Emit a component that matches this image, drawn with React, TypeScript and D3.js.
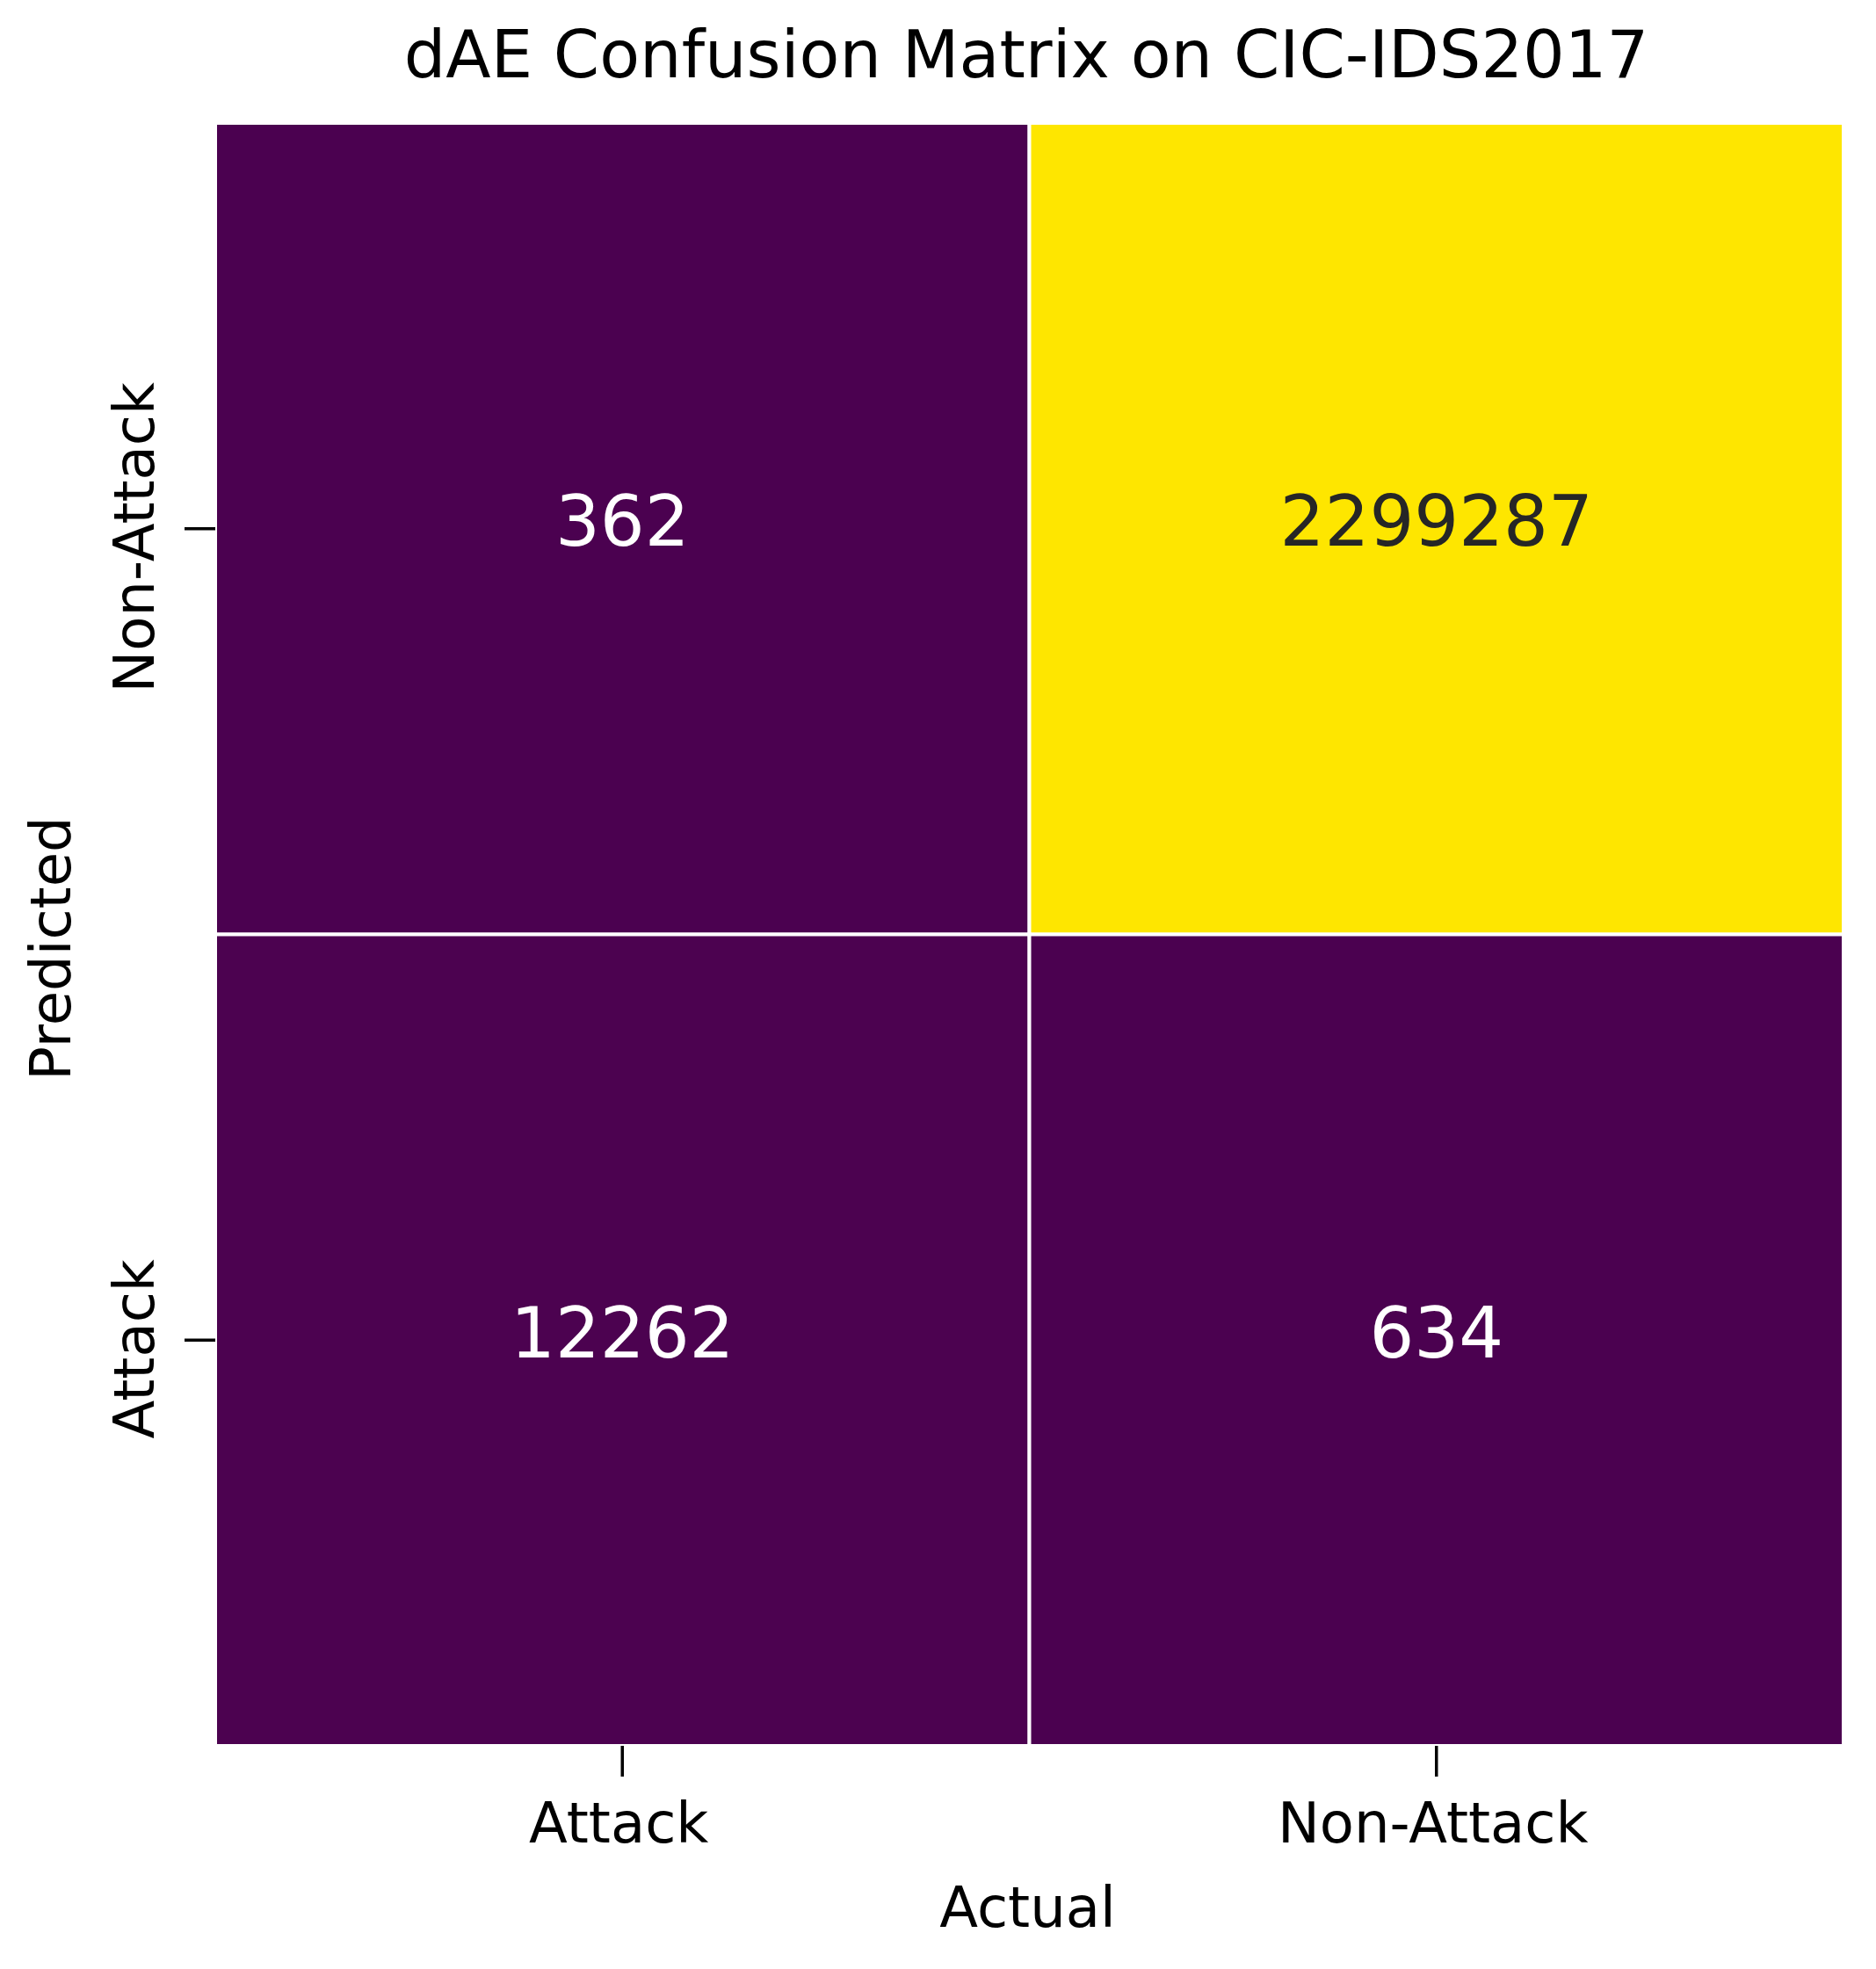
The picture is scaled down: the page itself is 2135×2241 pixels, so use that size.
import React, { useEffect, useRef } from "react";
import * as d3 from "d3";

const title = "dAE Confusion Matrix on CIC-IDS2017";
const actualLabels = ["Attack", "Non-Attack"];
const predictedLabels = ["Non-Attack", "Attack"];
// values[row][col], rows = predicted (top to bottom), cols = actual
const rowNonAttack = [362, 2299287];
const rowAttack = [12262, 634];
const xAxisTitle = "Actual";
const yAxisTitle = "Predicted";

const W = 2135;
const H = 2241;
const FONT = "DejaVu Sans, sans-serif";

export default function App() {
  const ref = useRef<SVGSVGElement>(null);

  useEffect(() => {
    document.body.style.margin = "0";
    const svg = d3.select(ref.current);
    svg.selectAll("*").remove();

    const left = 245, right = 2098, top = 140, bottom = 1987;
    const values = [rowNonAttack, rowAttack];
    const cells = values.flatMap((row, ri) =>
      row.map((v, ci) => ({ row: predictedLabels[ri], col: actualLabels[ci], v }))
    );

    const x = d3.scaleBand().domain(actualLabels).range([left, right]);
    const y = d3.scaleBand().domain(predictedLabels).range([top, bottom]);
    const maxV = d3.max(cells, (d) => d.v) as number;
    const minV = d3.min(cells, (d) => d.v) as number;
    const color = d3
      .scaleLinear<string>()
      .domain([minV, maxV])
      .range(["#4b0150", "#fee600"]);

    svg.append("rect").attr("width", W).attr("height", H).attr("fill", "#ffffff");

    svg
      .append("g")
      .selectAll("rect")
      .data(cells)
      .join("rect")
      .attr("x", (d) => x(d.col)!)
      .attr("y", (d) => y(d.row)!)
      .attr("width", x.bandwidth())
      .attr("height", y.bandwidth())
      .attr("fill", (d) => color(d.v))
      .attr("stroke", "#ffffff")
      .attr("stroke-width", 4);

    svg
      .append("g")
      .selectAll("text")
      .data(cells)
      .join("text")
      .attr("x", (d) => x(d.col)! + x.bandwidth() / 2)
      .attr("y", (d) => y(d.row)! + y.bandwidth() / 2 - 8)
      .attr("text-anchor", "middle")
      .attr("dominant-baseline", "central")
      .attr("font-family", FONT)
      .attr("font-size", 80)
      .attr("fill", (d) => (d.v > maxV / 2 ? "#262626" : "#ffffff"))
      .text((d) => String(d.v));

    // x axis ticks
    const xg = svg.append("g");
    actualLabels.forEach((lab) => {
      const cx = x(lab)! + x.bandwidth() / 2;
      xg.append("line")
        .attr("x1", cx).attr("x2", cx)
        .attr("y1", bottom).attr("y2", bottom + 35)
        .attr("stroke", "#000").attr("stroke-width", 3.5);
      xg.append("text")
        .attr("x", cx - 4).attr("y", 2097)
        .attr("text-anchor", "middle")
        .attr("font-family", FONT).attr("font-size", 64)
        .attr("fill", "#000")
        .text(lab);
    });

    // y axis ticks
    const yg = svg.append("g");
    predictedLabels.forEach((lab) => {
      const cy = y(lab)! + y.bandwidth() / 2;
      yg.append("line")
        .attr("x1", left - 35).attr("x2", left)
        .attr("y1", cy).attr("y2", cy)
        .attr("stroke", "#000").attr("stroke-width", 3.5);
      yg.append("text")
        .attr("transform", `translate(175,${cy + 10}) rotate(-90)`)
        .attr("text-anchor", "middle")
        .attr("font-family", FONT).attr("font-size", 64)
        .attr("fill", "#000")
        .text(lab);
    });

    svg.append("text")
      .attr("x", (left + right) / 2 - 2).attr("y", 2193)
      .attr("text-anchor", "middle")
      .attr("font-family", FONT).attr("font-size", 64)
      .attr("fill", "#000")
      .text(xAxisTitle);

    svg.append("text")
      .attr("transform", `translate(80,${(top + bottom) / 2 + 16}) rotate(-90)`)
      .attr("text-anchor", "middle")
      .attr("font-family", FONT).attr("font-size", 64)
      .attr("fill", "#000")
      .text(yAxisTitle);

    svg.append("text")
      .attr("x", 1168).attr("y", 88)
      .attr("text-anchor", "middle")
      .attr("font-family", FONT).attr("font-size", 75)
      .attr("fill", "#000")
      .text(title);
  }, []);

  return (
    <svg
      ref={ref}
      width={W}
      height={H}
      style={{ position: "absolute", left: 0, top: 0, display: "block" }}
    />
  );
}
